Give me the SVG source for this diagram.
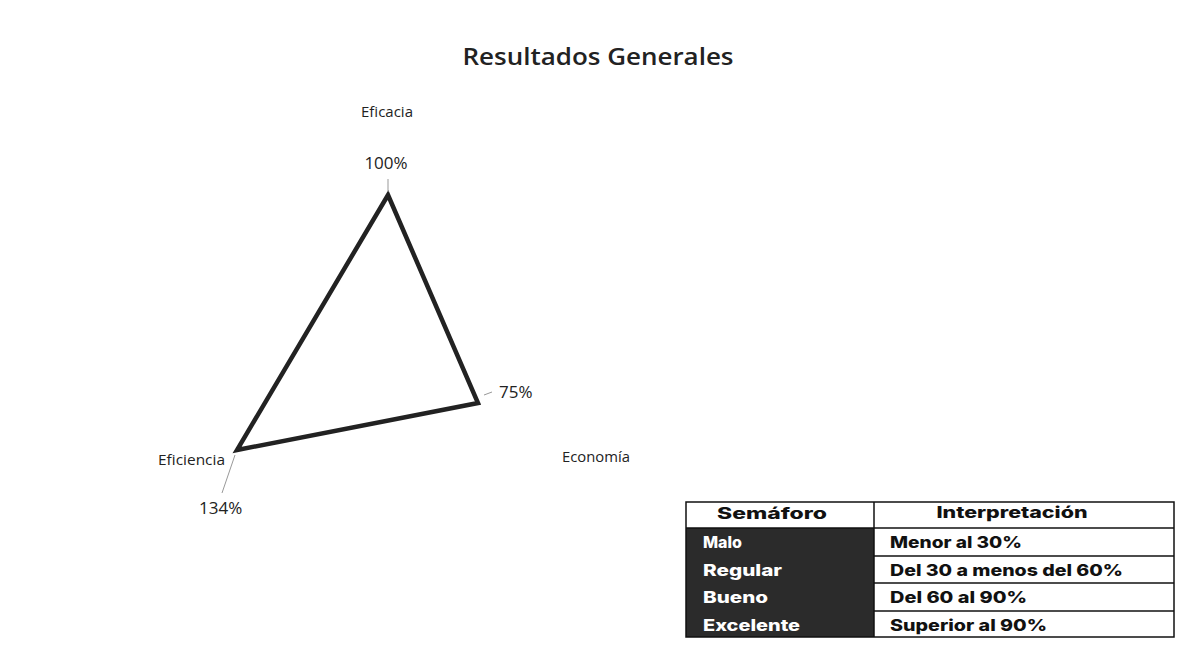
<svg xmlns="http://www.w3.org/2000/svg" width="1189" height="654" viewBox="0 0 1189 654">
<style>
.lbl{font-family:"Open Sans","Liberation Sans",sans-serif;font-size:15px;fill:#222}
.val{font-family:"Open Sans","Liberation Sans",sans-serif;font-size:17px;fill:#222}
.title{font-family:"Open Sans","Liberation Sans",sans-serif;font-size:24px;font-weight:600;fill:#222}
.tw{font-family:Inter,"Liberation Sans",sans-serif;font-size:16px;font-weight:800;fill:#fff}
.tb{font-family:Inter,"Liberation Sans",sans-serif;font-size:16px;font-weight:800;fill:#111}
.lead{stroke:#999;stroke-width:1;fill:none}
.grid{stroke:#111;stroke-width:1.5;fill:none}
</style>
<rect width="1189" height="654" fill="#fff"/>
<text class="title" x="598" y="65" text-anchor="middle" textLength="271" lengthAdjust="spacingAndGlyphs">Resultados Generales</text>
<g id="chart">
<polygon points="388,195 478,403 237,450" fill="none" stroke="#222" stroke-width="4.5" stroke-linejoin="miter"/>
</g>
<g id="connectors">
<line class="lead" x1="388" y1="179" x2="388" y2="192"/>
<line class="lead" x1="484" y1="395" x2="492" y2="392"/>
<line class="lead" x1="235" y1="455" x2="222" y2="493"/>
</g>
<g id="eficacia">
<text class="lbl" x="387" y="117" text-anchor="middle">Eficacia</text>
<text class="val" x="386" y="169" text-anchor="middle">100%</text>
</g>
<g id="economia">
<text class="val" x="499" y="398">75%</text>
<text class="lbl" x="562" y="462" textLength="68" lengthAdjust="spacingAndGlyphs">Economía</text>
</g>
<g id="eficiencia">
<text class="lbl" x="158" y="465" textLength="67" lengthAdjust="spacingAndGlyphs">Eficiencia</text>
<text class="val" x="199" y="514">134%</text>
</g>
<g id="tabla">
<rect x="686" y="528" width="188" height="109" fill="#2b2b2b"/>
<rect x="686" y="502" width="488" height="135" class="grid"/>
<line class="grid" x1="686" y1="528" x2="1174" y2="528"/>
<line class="grid" x1="874" y1="502" x2="874" y2="637"/>
<line class="grid" x1="874" y1="556" x2="1174" y2="556"/>
<line class="grid" x1="874" y1="583" x2="1174" y2="583"/>
<line class="grid" x1="874" y1="611" x2="1174" y2="611"/>
<text class="tb" x="772" y="519" text-anchor="middle" textLength="110" lengthAdjust="spacingAndGlyphs">Semáforo</text>
<text class="tb" x="1012" y="518" text-anchor="middle" textLength="151" lengthAdjust="spacingAndGlyphs">Interpretación</text>
<text class="tw" x="703" y="548" textLength="39" lengthAdjust="spacingAndGlyphs">Malo</text>
<text class="tw" x="703" y="576" textLength="79" lengthAdjust="spacingAndGlyphs">Regular</text>
<text class="tw" x="703" y="603" textLength="65" lengthAdjust="spacingAndGlyphs">Bueno</text>
<text class="tw" x="703" y="631" textLength="97" lengthAdjust="spacingAndGlyphs">Excelente</text>
<text class="tb" x="890" y="548" textLength="132" lengthAdjust="spacingAndGlyphs">Menor al 30%</text>
<text class="tb" x="890" y="576" textLength="233" lengthAdjust="spacingAndGlyphs">Del 30 a menos del 60%</text>
<text class="tb" x="890" y="603" textLength="137" lengthAdjust="spacingAndGlyphs">Del 60 al 90%</text>
<text class="tb" x="890" y="631" textLength="157" lengthAdjust="spacingAndGlyphs">Superior al 90%</text>
</g>
</svg>
